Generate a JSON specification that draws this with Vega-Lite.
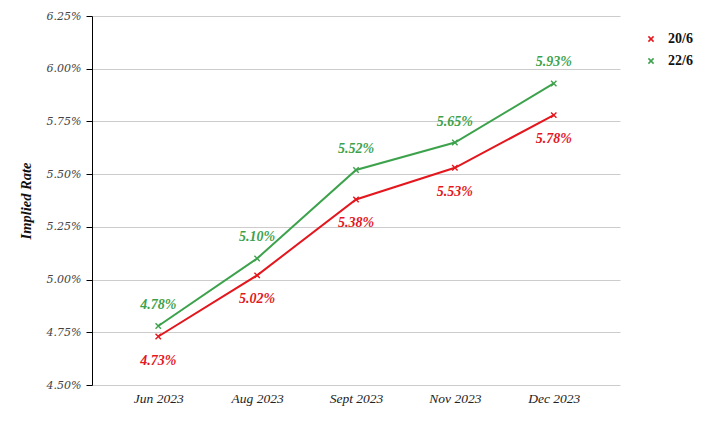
{
  "$schema": "https://vega.github.io/schema/vega-lite/v6.json",
  "width": 528,
  "height": 369,
  "autosize": "none",
  "padding": {"left": 92, "top": 16, "right": 92, "bottom": 38},
  "background": "white",
  "config": {
    "view": {"stroke": null},
    "font": "Liberation Serif"
  },
  "data": {
    "values": [
      {"month": "Jun 2023", "series": "20/6", "rate": 0.0473},
      {"month": "Aug 2023", "series": "20/6", "rate": 0.0502},
      {"month": "Sept 2023", "series": "20/6", "rate": 0.0538},
      {"month": "Nov 2023", "series": "20/6", "rate": 0.0553},
      {"month": "Dec 2023", "series": "20/6", "rate": 0.0578},
      {"month": "Jun 2023", "series": "22/6", "rate": 0.0478},
      {"month": "Aug 2023", "series": "22/6", "rate": 0.0510},
      {"month": "Sept 2023", "series": "22/6", "rate": 0.0552},
      {"month": "Nov 2023", "series": "22/6", "rate": 0.0565},
      {"month": "Dec 2023", "series": "22/6", "rate": 0.0593}
    ]
  },
  "encoding": {
    "x": {
      "field": "month", "type": "ordinal", "sort": null,
      "scale": {"type": "point", "padding": 0.67},
      "axis": {
        "title": null, "domain": false, "ticks": false, "grid": false,
        "labelAngle": 0, "labelFont": "Liberation Serif", "labelFontStyle": "italic",
        "labelFontSize": 13.5, "labelColor": "#222", "labelPadding": 6
      }
    },
    "y": {
      "field": "rate", "type": "quantitative",
      "scale": {"domain": [0.045, 0.0625], "nice": false, "zero": false},
      "axis": {
        "title": "Implied Rate", "titleFont": "Liberation Serif", "titleFontStyle": "italic",
        "titleFontWeight": "bold", "titleFontSize": 14.5, "titleColor": "#111", "titlePadding": 13,
        "values": [0.045, 0.0475, 0.05, 0.0525, 0.055, 0.0575, 0.06, 0.0625],
        "format": ".2%", "labelFont": "DejaVu Serif", "labelFontStyle": "italic",
        "labelFontSize": 11, "labelColor": "#444", "labelPadding": 5,
        "domainColor": "#000", "domainWidth": 1, "tickColor": "#000", "tickSize": 6,
        "gridColor": "#cccccc", "gridWidth": 1
      }
    },
    "color": {
      "field": "series", "type": "nominal",
      "scale": {"domain": ["20/6", "22/6"], "range": ["#e3171d", "#3da24c"]},
      "legend": {
        "title": null, "orient": "none", "legendX": 552, "legendY": 16,
        "symbolType": "M-0.7,-0.7L0.7,0.7M0.7,-0.7L-0.7,0.7",
        "symbolSize": 55, "symbolStrokeWidth": 1.5, "symbolFillColor": "transparent",
        "labelFont": "Liberation Serif", "labelFontWeight": "bold", "labelFontSize": 14,
        "labelColor": "#111", "rowPadding": 8, "labelOffset": 10
      }
    }
  },
  "layer": [
    {"mark": {"type": "line", "strokeWidth": 2}},
    {"mark": {"type": "point", "shape": "M-0.7,-0.7L0.7,0.7M0.7,-0.7L-0.7,0.7", "filled": false, "size": 60, "strokeWidth": 1.4, "opacity": 1}},
    {
      "transform": [{"filter": "datum.series === '22/6'"}],
      "mark": {"type": "text", "dy": -21, "font": "Liberation Serif", "fontStyle": "italic", "fontWeight": "bold", "fontSize": 14},
      "encoding": {"text": {"field": "rate", "type": "quantitative", "format": ".2%"}}
    },
    {
      "transform": [{"filter": "datum.series === '20/6'"}],
      "mark": {"type": "text", "dy": 24, "font": "Liberation Serif", "fontStyle": "italic", "fontWeight": "bold", "fontSize": 14},
      "encoding": {"text": {"field": "rate", "type": "quantitative", "format": ".2%"}}
    }
  ]
}
